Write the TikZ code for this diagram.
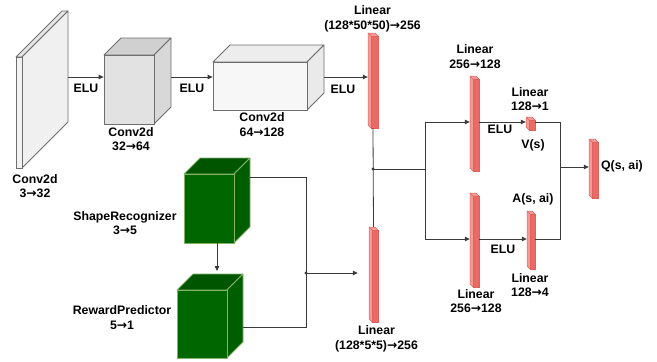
\documentclass[tikz,border=0pt]{standalone}
\usepackage{fontspec}
\setmainfont{Liberation Sans}
\newfontfamily\arrfont{DejaVu Sans}
\usetikzlibrary{arrows.meta,calc}

\definecolor{redf}{HTML}{EA6B66}
\definecolor{redl}{HTML}{F29C98}
\definecolor{redb}{HTML}{E0605B}
\definecolor{gf}{HTML}{006600}
\definecolor{gt}{HTML}{005600}
\definecolor{gs}{HTML}{005E00}
\definecolor{gb}{HTML}{82B366}
\definecolor{pf}{HTML}{F2F2F2}
\definecolor{pt}{HTML}{E6E6E6}
\definecolor{ps}{HTML}{F0F0F0}
\definecolor{pb}{HTML}{6E6E6E}
\definecolor{mf}{HTML}{E2E2E2}
\definecolor{mt}{HTML}{D0D0D0}
\definecolor{ms}{HTML}{D8D8D8}
\definecolor{mb}{HTML}{6E6E6E}
\definecolor{wf}{HTML}{F7F7F7}
\definecolor{wt}{HTML}{EDEDED}
\definecolor{ws}{HTML}{EAEAEA}
\definecolor{wb}{HTML}{6E6E6E}
\definecolor{linec}{HTML}{3A3A3A}

\newcommand\ar{{\arrfont\bfseries →}}

\tikzset{
  lbl/.style={font=\bfseries\fontsize{12.3}{14.5}\selectfont, align=center, inner sep=0pt, text=black},
  conn/.style={draw=linec, line width=0.8pt},
  arr/.style={conn, -{Triangle[length=5pt,width=4.5pt]}},
  dotj/.style={circle, fill=linec, inner sep=0pt, minimum size=3.4pt},
}

% cuboid: #1 name, #2 x1, #3 y1, #4 x2, #5 y2 (front face), #6 depth, #7 colour prefix
\newcommand\cuboid[7]{%
  \filldraw[fill=#7t, draw=#7b, line width=0.8pt, line join=round] (#2,#3) -- (#2+#6,#3-#6) -- (#4+#6,#3-#6) -- (#4,#3) -- cycle;
  \filldraw[fill=#7s, draw=#7b, line width=0.8pt, line join=round] (#4,#3) -- (#4+#6,#3-#6) -- (#4+#6,#5-#6) -- (#4,#5) -- cycle;
  \node[draw=#7b, fill=#7f, line width=0.8pt, inner sep=0pt, minimum width={(#4-#2)*1pt}, minimum height={(#5-#3)*1pt}] (#1) at ({(#2+#4)/2},{(#3+#5)/2}) {};
  \coordinate (#1-r) at (#4+#6,{(#3+#5)/2-#6});
}

% red bar: #1 name, #2 x1, #3 y1, #4 x2, #5 y2 (outer box)
\newcommand\rbar[5]{%
  \node[inner sep=0pt, minimum width={(#4-#2)*1pt}, minimum height={(#5-#3)*1pt}] (#1) at ({(#2+#4)/2},{(#3+#5)/2}) {};
  \filldraw[fill=redl, draw=redb, line width=0.5pt, line join=round] (#2,#3) -- (#4-3,#3) -- (#4,#3+3) -- (#4,#5) -- (#2+3,#5) -- (#2,#5-3) -- cycle;
  \filldraw[fill=redf, draw=redb, line width=0.5pt] (#2+3,#3+3) rectangle (#4,#5);
  \draw[redb, line width=0.5pt] (#2,#3) -- (#2+3,#3+3);
}

\begin{document}
\begin{tikzpicture}[x=1pt, y=-1pt]
\useasboundingbox[fill=white] (0,0) rectangle (657,362);

% convolution blocks
\cuboid{plane}{16}{57}{22}{168}{46}{p}
\cuboid{c2}{104}{55}{154}{124}{17}{m}
\cuboid{c3}{213}{62}{307}{110}{17}{w}

% green blocks
\cuboid{sr}{184}{174}{234}{243}{16}{g}
\cuboid{rp}{177}{290}{227}{358}{16}{g}

% linear bars
\rbar{lin1}{368}{33}{378}{128}
\rbar{lin2}{369}{227}{378}{322}
\rbar{lin3}{470}{76}{479}{171}
\rbar{lin4}{470}{193}{479}{287}
\rbar{vs}{526}{117}{535}{130}
\rbar{as}{527}{211}{535}{269}
\rbar{q}{589}{139}{598}{198}

% helper rows
\coordinate (rowA) at (0,77);
\coordinate (rowV) at (0,122);
\coordinate (rowW) at (0,239);
\coordinate (J) at (373,169);
\coordinate (split) at (425,169);
\coordinate (m) at (560,167);
\coordinate (gj) at (306,273);
\coordinate (srrow) at (0,177);
\coordinate (rprow) at (0,327);
\coordinate (dnx) at (217,0);
\coordinate (rptop) at (217,271);

% connectors
\draw[arr] (plane-r |- rowA) -- (c2.west |- rowA);
\draw[arr] (c2-r |- rowA) -- (c3.west |- rowA);
\draw[arr] (c3-r |- rowA) -- (lin1.west |- rowA);
\draw[conn] (lin1.south) -- (lin2.north);
\node[dotj] (Jd) at (J) {};
\draw[conn] (J) -- (split);
\draw[arr] (split) |- (lin3.west |- rowV);
\draw[arr] (split) |- (lin4.west |- rowW);
\draw[arr] (lin3.east |- rowV) -- (vs.west |- rowV);
\draw[arr] (lin4.east |- rowW) -- (as.west |- rowW);
\draw[conn] (vs.east |- rowV) -| (m);
\draw[conn] (as.east |- rowW) -| (m);
\draw[arr] (m) -- (q.west |- m);
\draw[arr] (sr.south -| dnx) -- (rptop);
\draw[conn] (sr-r |- srrow) -| (gj);
\draw[conn] (rp-r |- rprow) -| (gj);
\node[dotj] (gjd) at (gj) {};
\draw[arr, shorten >=11pt] (gj) -- (lin2.west |- gj);

% labels
\node[lbl] at (35,186) {Conv2d\\3\ar32};
\node[lbl] at (131,139) {Conv2d\\32\ar64};
\node[lbl] at (262,124.5) {Conv2d\\64\ar128};
\node[lbl] at (86,88) {ELU};
\node[lbl] at (192,88) {ELU};
\node[lbl] at (343,89) {ELU};
\node[lbl] at (372.5,19) {Linear\\(128*50*50)\ar256};
\node[lbl] at (475,56.5) {Linear\\256\ar128};
\node[lbl] at (530,99) {Linear\\128\ar1};
\node[lbl] at (500,129) {ELU};
\node[lbl] at (533,145) {V(s)};
\node[lbl] at (622,166) {Q(s, ai)};
\node[lbl] at (533,199) {A(s, ai)};
\node[lbl] at (503,249) {ELU};
\node[lbl] at (530,285) {Linear\\128\ar4};
\node[lbl] at (476,301) {Linear\\256\ar128};
\node[lbl] at (376.5,339) {Linear\\(128*5*5)\ar256};
\node[lbl] at (125,223) {ShapeRecognizer\\3\ar5};
\node[lbl] at (122,317.5) {RewardPredictor\\5\ar1};
\end{tikzpicture}
\end{document}
